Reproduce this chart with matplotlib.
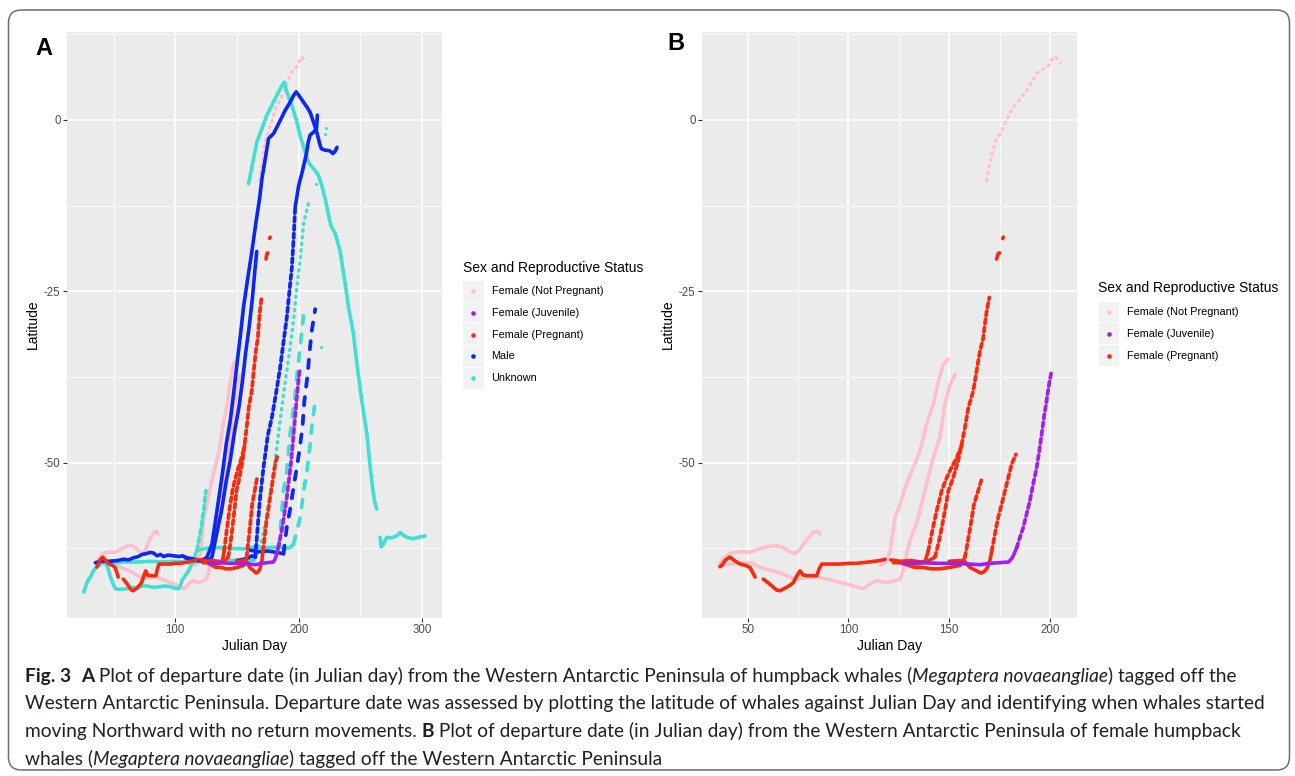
import numpy as np
import matplotlib
matplotlib.use('Agg')
import matplotlib.pyplot as plt
from matplotlib import font_manager
from matplotlib.patches import FancyBboxPatch, Rectangle
from matplotlib.lines import Line2D
from matplotlib.transforms import IdentityTransform
from matplotlib.ticker import MultipleLocator

NAN = float('nan')

# ---- tracks: (julian day, latitude) ----
# Female (Not Pregnant)
NP1_EARLY = [(36.0, -64.8), (38.5, -63.9), (41.5, -63.2), (44.6, -63.1), (48.0, -63.0), (51.2, -63.1),
             (55.0, -62.7), (59.0, -62.3), (62.8, -62.1), (65.5, -62.2), (67.8, -62.4), (70.5, -62.9),
             (73.5, -63.3), (75.5, -62.8), (77.7, -61.9), (80.0, -61.0), (82.6, -60.2), (84.5, -60.0),
             (86.0, -60.4)]
NP1_CLIMB = [(116.0, -65.0), (118.5, -64.6), (120.7, -62.9), (123.1, -58.0), (125.6, -56.1), (128.9, -53.1),
             (132.2, -50.7), (135.5, -48.3), (138.8, -44.4), (142.1, -41.5), (144.6, -38.1), (147.1, -35.6),
             (149.6, -34.9)]
NP1_TOP = [(168.6, -8.8), (169.4, -7.3), (171.0, -5.4), (173.0, -3.0), (175.1, -2.1), (178.2, -0.2),
           (181.2, 1.6), (185.3, 3.1), (188.4, 4.3), (193.5, 6.8), (199.6, 8.0), (201.5, 9.1),
           (202.7, 9.2), (205.3, 8.3)]
NP2 = [(37.2, -65.0), (41.0, -64.8), (46.3, -64.6), (51.2, -64.6), (56.2, -65.3), (59.5, -65.6),
       (62.8, -65.8), (66.0, -66.1), (69.4, -66.5), (72.0, -66.8), (74.4, -67.0), (78.5, -66.8),
       (82.6, -66.7), (86.0, -66.8), (89.3, -67.0), (92.5, -67.2), (95.9, -67.5), (99.0, -67.7),
       (102.5, -68.0), (105.0, -68.2), (107.4, -68.4), (109.0, -68.1), (110.8, -67.7), (114.1, -67.2),
       (116.5, -67.4), (119.0, -67.5), (122.0, -67.3), (125.6, -67.0), (127.3, -65.8), (128.9, -63.3),
       (130.5, -61.4), (133.9, -58.8), (136.5, -55.8), (138.8, -53.1), (142.1, -49.3), (145.4, -46.3),
       (147.9, -41.5), (150.4, -38.6), (152.9, -37.1)]

# Female (Juvenile)
JUV_FLAT = [(127.2, -64.7), (135.0, -64.6), (145.0, -64.7), (155.0, -64.7), (160.0, -64.8), (165.0, -64.9),
            (170.0, -64.7), (175.0, -64.6), (179.5, -64.5), (181.0, -64.0), (181.8, -63.6), (183.5, -62.4)]
JUV_CLIMB = [(183.5, -62.4), (185.1, -60.9), (186.7, -59.5), (188.4, -57.5), (190.0, -55.6), (191.7, -53.1),
             (193.4, -50.7), (194.7, -48.3), (195.9, -45.8), (197.0, -43.4), (198.3, -41.0), (199.5, -38.6),
             (200.8, -36.6)]

# Female (Pregnant)
PREG1_FLAT = [(36.3, -65.2), (37.2, -65.0), (39.0, -64.2), (41.3, -63.8), (43.5, -64.3), (46.3, -64.8),
              (49.0, -65.0), (51.2, -65.3), (52.5, -66.0), (53.7, -66.7), (NAN, NAN), (57.8, -67.0),
              (60.5, -67.6), (62.8, -68.2), (64.5, -68.6), (66.1, -68.7), (68.0, -68.4), (69.4, -68.2),
              (71.0, -67.9), (72.7, -67.5), (74.5, -66.5), (76.0, -65.8), (77.5, -66.4), (79.4, -66.5),
              (82.0, -66.5), (84.3, -66.5), (85.5, -65.5), (86.8, -64.8), (90.0, -64.8), (95.9, -64.8),
              (100.0, -64.7), (104.1, -64.7), (110.0, -64.5), (115.7, -64.3), (118.2, -64.1), (NAN, NAN),
              (122.3, -64.6), (128.9, -64.6), (134.0, -64.8), (138.0, -64.5), (139.6, -62.9)]
PREG1_CLIMB = [(139.6, -62.9), (141.3, -60.4), (143.8, -57.0), (146.3, -54.1), (148.8, -52.2),
               (151.2, -50.7), (153.7, -49.3), (156.2, -47.5)]
PREG2_FLAT = [(121.0, -64.2), (126.0, -64.4), (131.0, -64.3), (136.0, -64.5), (140.0, -64.3), (142.9, -63.8)]
PREG2_CLIMB = [(142.9, -63.8), (144.6, -61.9), (146.3, -59.5), (147.9, -57.0), (149.6, -54.1), (152.0, -52.2),
               (154.5, -49.7), (156.2, -47.3), (157.8, -44.9), (159.5, -42.0), (162.0, -39.5), (163.6, -36.6),
               (165.3, -33.7), (166.9, -31.8), (167.7, -29.8), (168.6, -27.9), (169.9, -25.9)]
PREG2_TOP = [(173.5, -20.3), (174.3, -19.5), (175.0, -19.4), (NAN, NAN), (176.5, -17.3), (176.9, -17.1)]
PREG3_FLAT = [(126.0, -64.6), (130.0, -65.0), (133.0, -65.3), (137.2, -65.3), (141.0, -65.5), (145.4, -65.5),
              (150.0, -65.3), (155.4, -65.0), (156.5, -64.5), (157.8, -63.8)]
PREG3_CLIMB = [(157.8, -63.8), (159.0, -61.9), (160.7, -59.0), (162.3, -56.1), (164.4, -54.1), (166.1, -52.4)]
PREG4_FLAT = [(150.0, -64.4), (155.0, -64.3), (158.0, -64.5), (160.3, -65.3), (163.6, -65.8), (165.5, -66.1),
              (166.9, -66.0), (168.6, -65.5), (170.2, -64.3), (171.1, -62.9)]
PREG4_CLIMB = [(171.1, -62.9), (172.7, -60.4), (174.3, -58.0), (176.0, -56.1), (177.7, -54.1), (179.3, -52.2),
               (181.0, -50.2), (183.1, -48.8)]

# Male
MALE1 = [(35.2, -64.6), (40.0, -64.4), (46.0, -64.4), (52.8, -64.3), (58.0, -64.1), (62.0, -64.2),
         (66.0, -63.9), (70.0, -63.7), (73.0, -63.4), (76.0, -63.3), (79.8, -63.1), (82.4, -63.2),
         (85.2, -63.6), (88.0, -63.4), (90.5, -63.7), (94.0, -63.5), (98.6, -63.6), (103.0, -63.7),
         (106.0, -63.6), (109.5, -63.9), (113.0, -64.0), (117.6, -64.2), (120.2, -64.3), (123.0, -64.1),
         (125.7, -63.8), (129.7, -61.9), (133.8, -57.0), (137.8, -52.1), (141.3, -47.3), (144.5, -43.9),
         (147.2, -40.0), (150.0, -35.6), (152.6, -31.7), (155.3, -27.3), (158.5, -23.4), (161.8, -19.5),
         (165.6, -14.7), (168.3, -11.5), (170.2, -8.6), (172.9, -5.7), (175.6, -2.7), (179.6, -2.0),
         (182.5, -1.0), (185.0, -0.1), (189.1, 1.4), (193.1, 2.6), (196.0, 3.6), (198.0, 4.1),
         (200.0, 3.6), (203.9, 2.6), (207.0, 1.8), (209.3, 1.1), (212.0, -0.3), (214.7, -1.8),
         (217.4, -3.7), (218.4, -4.2), (221.0, -4.4), (225.1, -4.5), (227.8, -4.9), (229.5, -4.6),
         (231.1, -4.0)]
MALE2 = [(108.0, -63.9), (112.0, -64.1), (118.0, -64.3), (124.0, -64.4), (127.0, -64.3), (129.7, -63.8),
         (134.0, -60.0), (137.5, -57.0), (141.0, -53.0), (144.5, -49.7), (148.0, -45.5), (151.5, -42.0),
         (154.5, -38.0), (157.0, -34.0), (160.0, -30.0), (162.5, -26.0), (164.5, -22.0), (166.0, -19.2)]
MALE3_FLAT = [(150.0, -64.3), (158.0, -64.0), (162.0, -63.6), (164.8, -63.8)]
MALE3_CLIMB = [(164.8, -63.8), (166.5, -60.0), (168.5, -55.5), (171.5, -50.7), (175.0, -46.0), (178.3, -43.4),
               (182.0, -39.5), (185.0, -36.1), (188.0, -32.0), (190.4, -28.8), (192.5, -25.0), (194.5, -21.5),
               (196.0, -17.0), (197.2, -12.7)]
MALE3_TOP = [(197.2, -12.7), (200.0, -9.6), (203.0, -7.5), (206.2, -5.0), (207.8, -3.2), (209.3, -2.2),
             (212.0, -1.8), (214.4, -1.3), (215.2, 0.7)]
MALE4_FLAT = [(160.7, -62.8), (168.0, -63.0), (175.0, -62.9), (182.0, -63.1), (187.7, -63.3)]
MALE4_CLIMB = [(187.7, -63.3), (190.4, -59.4), (193.1, -56.8), (196.3, -53.1), (198.5, -50.7), (200.6, -48.2),
               (203.1, -44.8), (204.5, -41.2), (207.2, -37.3), (208.8, -33.9), (210.7, -30.7), (213.4, -27.6)]

# Unknown
UNK1_FLAT = [(37.0, -64.8), (42.0, -64.6), (50.0, -64.6), (60.0, -64.5), (70.0, -64.5), (80.0, -64.4),
             (90.0, -64.5), (100.0, -64.4), (112.1, -64.6), (120.0, -64.4), (130.0, -64.3), (140.0, -64.4),
             (150.0, -64.2), (160.0, -64.3), (164.0, -64.2)]
UNK1_CLIMB = [(164.0, -64.2), (166.1, -63.5), (168.0, -62.0), (170.2, -61.4), (172.0, -59.5), (174.2, -58.0),
              (176.0, -55.5), (178.3, -53.1), (180.5, -50.0), (182.3, -47.8), (185.0, -43.9), (187.7, -40.0),
              (190.4, -36.6), (193.1, -33.2), (195.8, -29.3), (198.5, -24.4), (201.2, -20.5), (203.9, -15.2),
              (207.2, -12.7), (208.8, -11.5)]
UNK2_LOW = [(25.7, -68.9), (27.5, -68.0), (29.0, -67.2), (31.2, -66.7), (33.0, -66.0), (34.8, -65.5),
            (36.6, -65.3), (40.0, -64.6), (42.5, -64.4), (44.6, -65.0), (46.0, -65.8), (47.4, -66.7),
            (49.0, -67.5), (51.4, -68.4), (55.0, -68.5), (60.9, -68.4), (65.0, -68.2), (69.0, -68.3),
            (73.0, -68.0), (77.1, -68.0), (82.4, -68.2), (87.9, -68.1), (92.0, -68.0), (96.0, -68.1),
            (99.0, -68.3), (102.7, -68.4), (104.0, -68.0), (105.4, -67.2), (108.0, -66.5), (110.0, -66.0),
            (112.1, -65.3), (114.0, -64.5), (117.6, -62.8)]
UNK2_RISE = [(117.6, -62.8), (119.0, -61.4), (121.0, -59.5), (123.0, -57.0), (124.8, -54.1)]
UNK2_ARC = [(159.4, -9.3), (161.5, -7.4), (163.4, -5.7), (166.1, -3.2), (170.2, -1.3), (174.2, 0.7),
            (178.2, 2.1), (182.3, 3.6), (186.4, 5.0), (188.3, 5.5), (190.4, 4.1), (194.5, 2.1),
            (198.5, -0.3), (201.2, -2.3), (205.3, -4.7), (208.0, -6.2), (212.0, -7.1), (216.1, -8.1),
            (218.8, -9.6), (221.5, -11.5), (224.2, -13.9), (226.1, -15.4), (229.6, -16.6), (233.6, -19.1),
            (237.7, -23.9), (240.4, -27.3), (244.4, -31.2), (247.2, -35.6), (251.2, -41.0), (255.3, -45.8),
            (258.0, -50.7), (260.6, -54.6), (262.0, -56.0), (263.4, -56.8)]
UNK2_SOUTH = [(266.0, -60.9), (266.8, -62.3), (268.7, -61.9), (271.4, -60.9), (275.0, -61.0), (279.5, -60.7),
              (282.2, -60.2), (285.0, -60.6), (287.6, -60.9), (290.0, -61.0), (293.0, -61.1), (297.0, -60.9),
              (302.4, -60.7)]
UNK3_FLAT = [(118.0, -62.8), (125.0, -62.5), (135.0, -62.4), (145.0, -62.5), (155.0, -62.6), (165.0, -62.3),
             (175.0, -62.4), (185.0, -62.3), (190.0, -62.5), (193.0, -62.4), (195.8, -61.9)]
UNK3_CLIMB = [(195.8, -61.9), (198.5, -60.0), (201.2, -58.0), (204.5, -53.6), (206.7, -51.2), (208.8, -48.2),
              (210.7, -44.8), (213.4, -41.0)]
UNK4_CLIMB = [(184.0, -62.4), (186.0, -58.0), (187.7, -54.1), (190.4, -51.2), (193.0, -46.0), (197.2, -40.0),
              (198.5, -37.5), (200.6, -34.1), (202.6, -30.7), (204.5, -27.6)]
UNK_DOTS = [(214.2, -9.3), (221.5, -2.0), (222.3, -1.2), (218.0, -33.2)]

STATUS = ['Female (Not Pregnant)', 'Female (Juvenile)', 'Female (Pregnant)', 'Male', 'Unknown']
COLORS = {'Female (Not Pregnant)': '#FFC0CB', 'Female (Juvenile)': '#A020F0',
          'Female (Pregnant)': '#FA2A0E', 'Male': '#0A28F2', 'Unknown': '#40E0D0'}
ZORDER = {'Female (Not Pregnant)': 2, 'Unknown': 3, 'Male': 4, 'Female (Pregnant)': 5, 'Female (Juvenile)': 6}

# (track, status, how densely the fixes were taken)
TRACKS = [
    (NP1_EARLY, STATUS[0], 'dense'), (NP1_CLIMB, STATUS[0], 'dense'), (NP1_TOP, STATUS[0], 'dots'),
    (NP2, STATUS[0], 'dense'),
    (JUV_FLAT, STATUS[1], 'dense'), (JUV_CLIMB, STATUS[1], 'dash'),
    (PREG1_FLAT, STATUS[2], 'dense'), (PREG1_CLIMB, STATUS[2], 'dash'),
    (PREG2_FLAT, STATUS[2], 'dense'), (PREG2_CLIMB, STATUS[2], 'dash'), (PREG2_TOP, STATUS[2], 'dense'),
    (PREG3_FLAT, STATUS[2], 'dense'), (PREG3_CLIMB, STATUS[2], 'dash'),
    (PREG4_FLAT, STATUS[2], 'dense'), (PREG4_CLIMB, STATUS[2], 'dash'),
    (MALE1, STATUS[3], 'dense'), (MALE2, STATUS[3], 'dense'),
    (MALE3_FLAT, STATUS[3], 'dense'), (MALE3_CLIMB, STATUS[3], 'dash'), (MALE3_TOP, STATUS[3], 'dense'),
    (MALE4_FLAT, STATUS[3], 'dense'), (MALE4_CLIMB, STATUS[3], 'sparse'),
    (UNK1_FLAT, STATUS[4], 'dense'), (UNK1_CLIMB, STATUS[4], 'dots'),
    (UNK2_LOW, STATUS[4], 'dense'), (UNK2_RISE, STATUS[4], 'dash'), (UNK2_ARC, STATUS[4], 'dense'),
    (UNK2_SOUTH, STATUS[4], 'dense'),
    (UNK3_FLAT, STATUS[4], 'dense'), (UNK3_CLIMB, STATUS[4], 'sparse'),
    (UNK4_CLIMB, STATUS[4], 'sparse'),
]

LINESTYLE = {'dense': '-', 'dash': (0, (1.2, 1.0)), 'sparse': (0, (2.2, 2.8)), 'dots': (0, (0.4, 1.6))}
LINEWIDTH = {'dense': 2.6, 'dash': 2.7, 'sparse': 2.7, 'dots': 2.4}

W, H = 1295, 776
plt.rcParams['axes.unicode_minus'] = False
plt.rcParams['font.family'] = ['Liberation Sans', 'DejaVu Sans']

fig = plt.figure(figsize=(W / 100, H / 100), dpi=100)
fig.patch.set_facecolor('white')


def px_axes(left, top, right, bottom):
    return fig.add_axes([left / W, 1 - bottom / H, (right - left) / W, (bottom - top) / H])


def draw_panel(ax, statuses, xlim, xmajor):
    ax.set_facecolor('#EBEBEB')
    for s in ax.spines.values():
        s.set_visible(False)
    for pts, status, kind in TRACKS:
        if status not in statuses:
            continue
        arr = np.array(pts)
        ax.plot(arr[:, 0], arr[:, 1], color=COLORS[status], lw=LINEWIDTH[kind],
                ls=LINESTYLE[kind], solid_capstyle='round', dash_capstyle='round',
                solid_joinstyle='round', zorder=ZORDER[status])
    if 'Unknown' in statuses:
        d = np.array(UNK_DOTS)
        ax.scatter(d[:, 0], d[:, 1], s=5, color=COLORS['Unknown'], zorder=ZORDER['Unknown'], lw=0)
    ax.set_xlim(*xlim)
    ax.set_ylim(-72.6, 12.9)
    ax.xaxis.set_major_locator(MultipleLocator(xmajor))
    ax.xaxis.set_minor_locator(MultipleLocator(xmajor / 2))
    ax.yaxis.set_major_locator(MultipleLocator(25))
    ax.yaxis.set_minor_locator(MultipleLocator(12.5))
    ax.grid(which='major', color='white', lw=1.1, zorder=0)
    ax.grid(which='minor', color='white', lw=0.55, zorder=0)
    ax.set_axisbelow(True)
    ax.tick_params(which='major', length=2.6, width=0.8, color='#333333', labelcolor='#4D4D4D',
                   labelsize=8.3, pad=2)
    ax.tick_params(which='minor', length=0)
    ax.set_xlabel('Julian Day', fontsize=10, labelpad=2.5)
    ax.set_ylabel('Latitude', fontsize=10, labelpad=3)


def draw_legend(x0, y_title, y_first, statuses):
    fig.text(x0 / W, 1 - y_title / H, 'Sex and Reproductive Status', fontsize=10,
             ha='left', va='center')
    for i, st in enumerate(statuses):
        yc = y_first + i * 21.8
        fig.patches.append(Rectangle((x0 / W, 1 - (yc + 10.4) / H), 20.5 / W, 20.8 / H,
                                     transform=fig.transFigure, color='#F2F2F2', lw=0))
        fig.lines.append(Line2D([(x0 + 10.2) / W], [1 - yc / H], marker='o', ms=2.3, lw=0,
                                color=COLORS[st], transform=fig.transFigure))
        fig.text((x0 + 28.5) / W, 1 - yc / H, st, fontsize=7.8, ha='left', va='center')


axA = px_axes(67, 31.5, 442, 617.5)
draw_panel(axA, STATUS, (12.2, 316.2), 100)
axB = px_axes(702, 31.5, 1077, 617.5)
draw_panel(axB, STATUS[:3], (27.4, 213.4), 50)

draw_legend(463, 268, 291, STATUS)
draw_legend(1098.5, 288, 312, STATUS[:3])

fig.text(35 / W, 1 - 48.5 / H, 'A', fontsize=17, fontweight='bold', ha='left', va='center')
fig.text(667 / W, 1 - 43.5 / H, 'B', fontsize=17, fontweight='bold', ha='left', va='center')

# rounded frame around the whole figure
fig.patches.append(FancyBboxPatch((8.5, H - 770), 1281, 760,
                                  boxstyle='round,pad=0,rounding_size=13',
                                  transform=IdentityTransform(), fill=False,
                                  ec='#6E6E6E', lw=1.1))

# caption
names = {f.name for f in font_manager.fontManager.ttflist}
CAP_FONT = next((f for f in ['Liberation Sans Narrow', 'Lato', 'Roboto', 'Open Sans'] if f in names),
                'DejaVu Sans')
renderer = fig.canvas.get_renderer()

LINE1 = [('Fig. 3', 'b'), ('  ', 'r'), ('A', 'b'),
         (' Plot of departure date (in Julian day) from the Western Antarctic Peninsula of humpback whales (', 'r'),
         ('Megaptera novaeangliae', 'i'), (') tagged off the', 'r')]
LINE2 = [('Western Antarctic Peninsula. Departure date was assessed by plotting the latitude of whales '
          'against Julian Day and identifying when whales started', 'r')]
LINE3 = [('moving Northward with no return movements. ', 'r'), ('B', 'b'),
         (' Plot of departure date (in Julian day) from the Western Antarctic Peninsula of female humpback', 'r')]
LINE4 = [('whales (', 'r'), ('Megaptera novaeangliae', 'i'), (') tagged off the Western Antarctic Peninsula', 'r')]


def kw_for(style, size):
    kw = dict(fontsize=size, family=CAP_FONT, color='#231F20', ha='left', va='baseline')
    if style == 'b':
        kw['fontweight'] = 'bold'
    if style == 'i':
        kw['fontstyle'] = 'italic'
    return kw


def advance(text, kw):
    t1 = fig.text(0, 0, '|' + text + '|', **kw)
    t2 = fig.text(0, 0, '||', **kw)
    w = t1.get_window_extent(renderer).width - t2.get_window_extent(renderer).width
    t1.remove()
    t2.remove()
    return w


def line_width(runs, size):
    return sum(advance(t, kw_for(s, size)) for t, s in runs)


cap_size = min(10 * 1237 / line_width(LINE1, 10), 10 * 1245 / line_width(LINE2, 10))


def caption_line(x, y, runs):
    for text, style in runs:
        kw = kw_for(style, cap_size)
        fig.text(x / W, 1 - y / H, text, **kw)
        x += advance(text, kw)


# y values are text baselines in pixels from the top
for y, runs in zip([682, 709.5, 737, 764.5], [LINE1, LINE2, LINE3, LINE4]):
    caption_line(25, y, runs)

fig.savefig('out.png', dpi=100, facecolor='white')
